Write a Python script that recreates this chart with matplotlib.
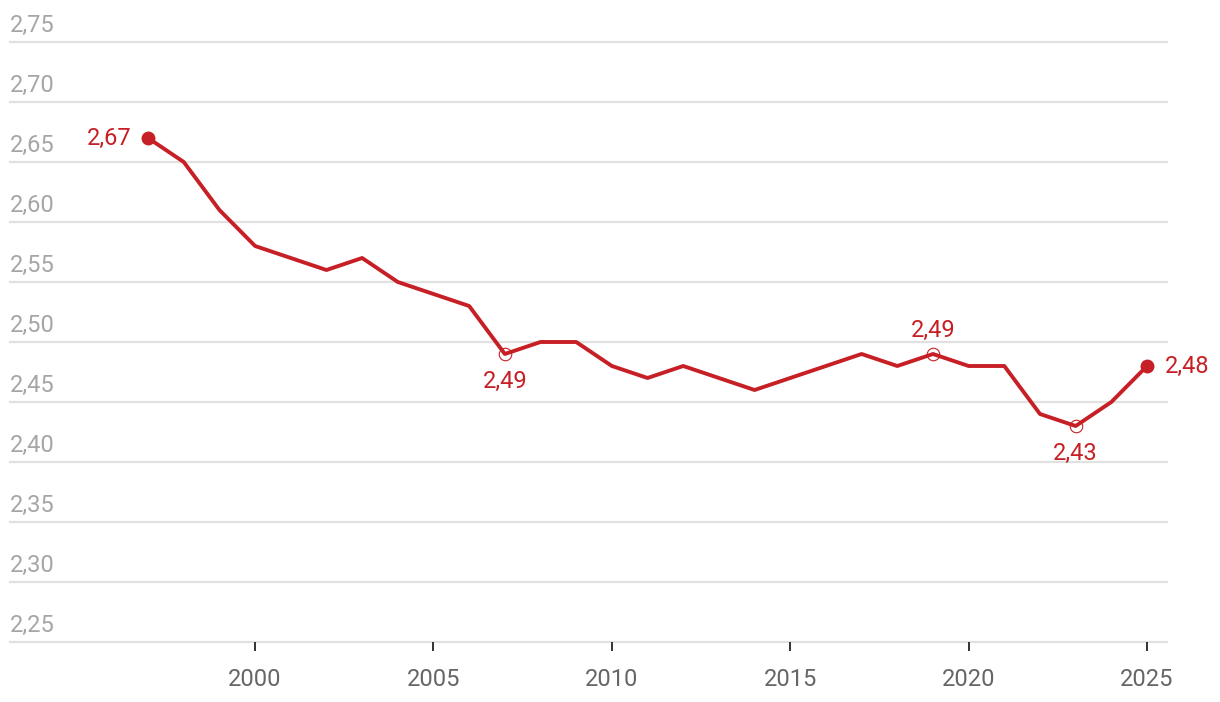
import matplotlib
matplotlib.use("Agg")
import matplotlib.pyplot as plt

plt.rcParams['font.family'] = ['Roboto', 'DejaVu Sans']

# data
years = list(range(1997, 2026))
values = [2.67, 2.65, 2.61, 2.58, 2.57, 2.56, 2.57, 2.55, 2.54, 2.53,
          2.49, 2.50, 2.50, 2.48, 2.47, 2.48, 2.47, 2.46, 2.47, 2.48,
          2.49, 2.48, 2.49, 2.48, 2.48, 2.44, 2.43, 2.45, 2.48]
y_ticks = [2.25, 2.30, 2.35, 2.40, 2.45, 2.50, 2.55, 2.60, 2.65, 2.70, 2.75]
x_ticks = [2000, 2005, 2010, 2015, 2020, 2025]

# labelled points: (year, offset in points, ha, va)
filled_pts = [1997, 2025]
hollow_pts = [2007, 2019, 2023]
label_specs = [
    (1997, (-12, 0), 'right', 'center'),
    (2007, (0, -20), 'center', 'center'),
    (2019, (0, 17), 'center', 'center'),
    (2023, (0, -20), 'center', 'center'),
    (2025, (13, 0), 'left', 'center'),
]

RED = '#c62026'
FS = 17
W, H = 1220, 702

fig = plt.figure(figsize=(W / 100, H / 100), dpi=100)
ax = fig.add_axes([10 / W, 60 / H, 1157 / W, 600 / H])

ax.set_xlim(1993.13, 2025.56)
ax.set_ylim(2.25, 2.75)

# grid + inline y labels
for t in y_ticks:
    ax.axhline(t, color='#e1e1e1', lw=1.6, zorder=1, clip_on=False)
    ax.text(0, t + 0.004, f"{t:.2f}".replace('.', ','), transform=ax.get_yaxis_transform(),
            ha='left', va='bottom', fontsize=FS, color='#a6a6a6')

for s in ax.spines.values():
    s.set_visible(False)
ax.set_yticks([])
ax.set_xticks(x_ticks)
ax.set_xticklabels([str(x) for x in x_ticks], fontsize=FS, color='#666666')
ax.tick_params(axis='x', length=6.5, width=1.3, color='#222222', pad=12)

ax.plot(years, values, color=RED, lw=2.8, zorder=3)

for yr in filled_pts:
    v = values[years.index(yr)]
    ax.plot(yr, v, 'o', color=RED, ms=9, zorder=4)
for yr in hollow_pts:
    v = values[years.index(yr)]
    ax.plot(yr, v, 'o', mfc='none', mec=RED, mew=0.8, ms=9, zorder=2)

for yr, off, ha, va in label_specs:
    v = values[years.index(yr)]
    ax.annotate(f"{v:.2f}".replace('.', ','), (yr, v), xytext=off, textcoords='offset points',
                ha=ha, va=va, fontsize=FS, color=RED, zorder=5)

fig.savefig('out.png', dpi=100)
